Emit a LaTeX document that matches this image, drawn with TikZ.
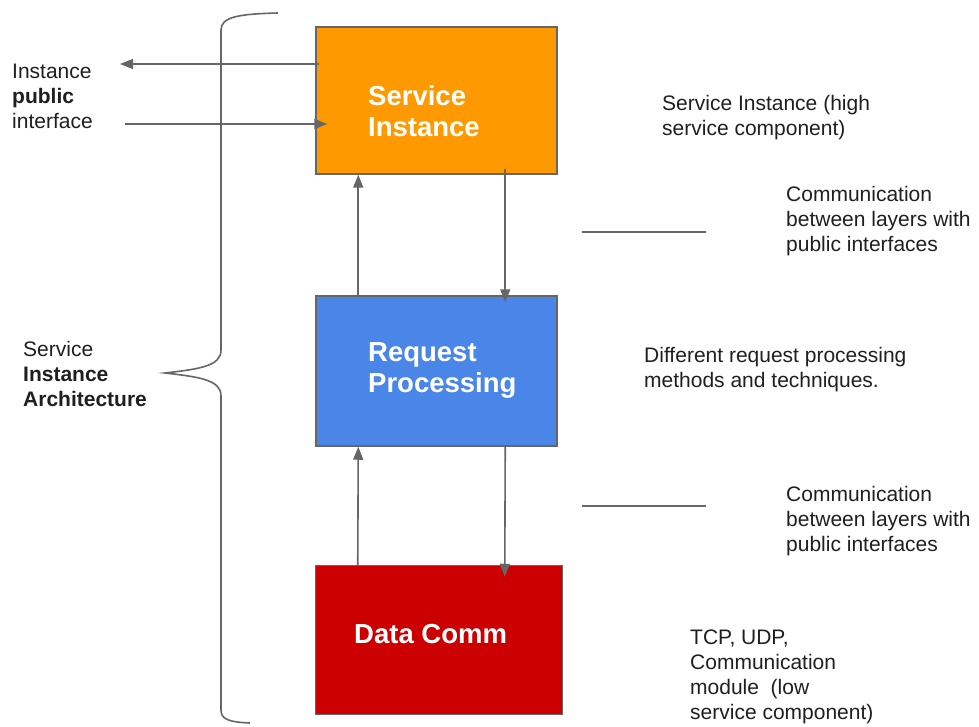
\documentclass[tikz,border=0pt]{standalone}
\usepackage{fontspec}
\setmainfont{Liberation Sans}
\usetikzlibrary{calc,arrows.meta}

\definecolor{siorange}{HTML}{FF9900}
\definecolor{rpblue}{HTML}{4A86E8}
\definecolor{dcred}{HTML}{CC0000}
\definecolor{linegray}{HTML}{666666}
\definecolor{notegray}{HTML}{1F1F1F}

\tikzset{
    layer/.style={draw=linegray, line width=1.5pt, inner sep=0pt},
    layertext/.style={text=white, font=\fontsize{27.5}{31}\selectfont\bfseries, align=left, anchor=west, inner sep=0pt},
    note/.style={text=notegray, font=\fontsize{21}{25}\selectfont, align=left, anchor=west, inner sep=0pt},
    conn/.style={draw=linegray, line width=1.6pt},
    tip/.style={-{Triangle[length=13pt,width=10pt]}}
}

\begin{document}
\begin{tikzpicture}[x=1pt, y=-1pt]
    \useasboundingbox (0,0) rectangle (979,727);

    % the three layers
    \node[layer, fill=siorange, minimum width=241pt, minimum height=147pt] (si) at (436.5,100.5) {};
    \node[layer, fill=rpblue,   minimum width=241pt, minimum height=150pt] (rp) at (436.5,371)   {};
    \node[layer, fill=dcred,    minimum width=247pt, minimum height=149pt] (dc) at (439,640)     {};

    \node[layertext] (sitext) at (368,111.5) {Service\\Instance};
    \node[layertext] (rptext) at (368,370.5) {Request\\Processing};
    \node[layertext] (dctext) at (354,634)   {Data Comm};

    % public interface
    \coordinate (pubout) at (120,64);
    \coordinate (pubin)  at (125,124);
    \draw[conn, tip] ($(si.west |- pubout)+(4,0)$) -- (pubout);
    \draw[conn, tip] (pubin) -- ($(si.west |- pubin)+(12,0)$);

    % between the layers
    \draw[conn, tip] ($(rp.north west)+(43,0)$)   -- ($(si.south west)+(43,0)$);
    \draw[conn, tip] ($(si.south west)+(190,-6)$) -- ($(rp.north west)+(190,7)$);
    \draw[conn, tip] ($(dc.north west)+(43,0)$)   -- ($(rp.south west)+(43,0)$);
    \draw[conn, tip] ($(rp.south west)+(190,0)$)  -- ($(dc.north west)+(190,12)$);

    % brace
    \draw[conn] (278,13) .. controls (238,14) and (221,17) .. (221,30)
                -- (221,350) .. controls (221,366) and (200,369) .. (165,373)
                .. controls (200,377) and (221,380) .. (221,396)
                -- (221,710) .. controls (221,719) and (228,722) .. (250,723);

    \draw[conn] (582,232) -- (706,232);
    \draw[conn] (582,506) -- (706,506);

    % notes
    \node[note] (pubnote)  at (12,96)   {Instance\\\textbf{public}\\interface};
    \node[note] (archnote) at (23,374)  {Service\\\textbf{Instance}\\\textbf{Architecture}};
    \node[note] (sinote)   at (662,118) {Service Instance (high\\service component)};
    \node[note] (comnoteA) at (786,221) {Communication\\between layers with\\public interfaces};
    \node[note] (rpnote)   at (644,370) {Different request processing\\methods and techniques.};
    \node[note] (comnoteB) at (786,521) {Communication\\between layers with\\public interfaces};
    \node[note] (dcnote)   at (690,677) {TCP, UDP,\\Communication\\module\ \ (low\\service component)};
\end{tikzpicture}
\end{document}
